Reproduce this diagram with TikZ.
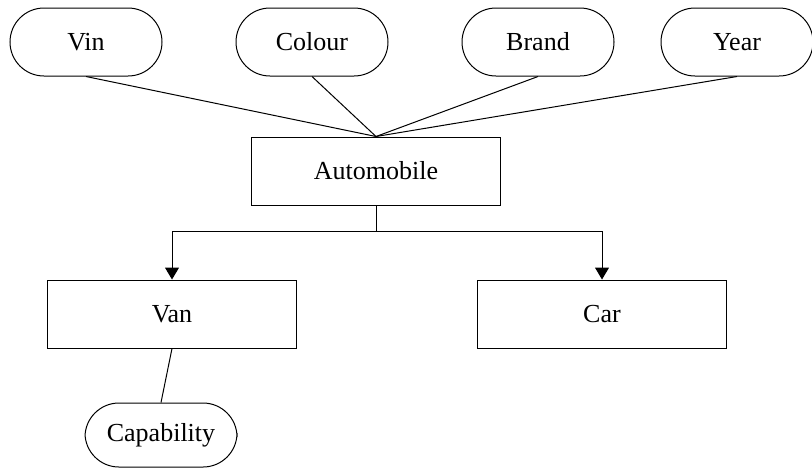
\documentclass[tikz,border=0pt]{standalone}
\usepackage{fontspec}
\setmainfont{Liberation Serif}
\usepackage{tikz}
\usetikzlibrary{arrows.meta}

\begin{document}
\begin{tikzpicture}[x=0.5pt,y=-0.5pt,>={Triangle[width=7pt,length=6pt]},
  line width=0.5pt,font=\fontsize{13}{15}\selectfont,
  attr node/.style={draw,rectangle,rounded corners=17pt,minimum width=76pt,minimum height=34pt,inner sep=0pt},
  class node/.style={draw,rectangle,minimum width=124.5pt,minimum height=34pt,inner sep=0pt}]

\useasboundingbox (0,0) rectangle (812,468);

\node[class node] (Automobile) at (376,171) {Automobile};
\node[class node] (Van) at (172,314) {Van};
\node[class node] (Car) at (602,314) {Car};
\node[attr node,minimum height=32pt] (Capability) at (161,435) {Capability};

\foreach \a/\x in {Vin/86,Colour/312,Brand/538,Year/737}{
  \node[attr node] (\a) at (\x,42) {\a};
  \draw (\a.south) -- (Automobile.north);
}

\coordinate (split) at (376,231);

\draw (Automobile.south) -- (split);
\draw[->] (split) -| (Van.north);
\draw[->] (split) -| (Car.north);
\draw (Van.south) -- (Capability.north);

\end{tikzpicture}
\end{document}
